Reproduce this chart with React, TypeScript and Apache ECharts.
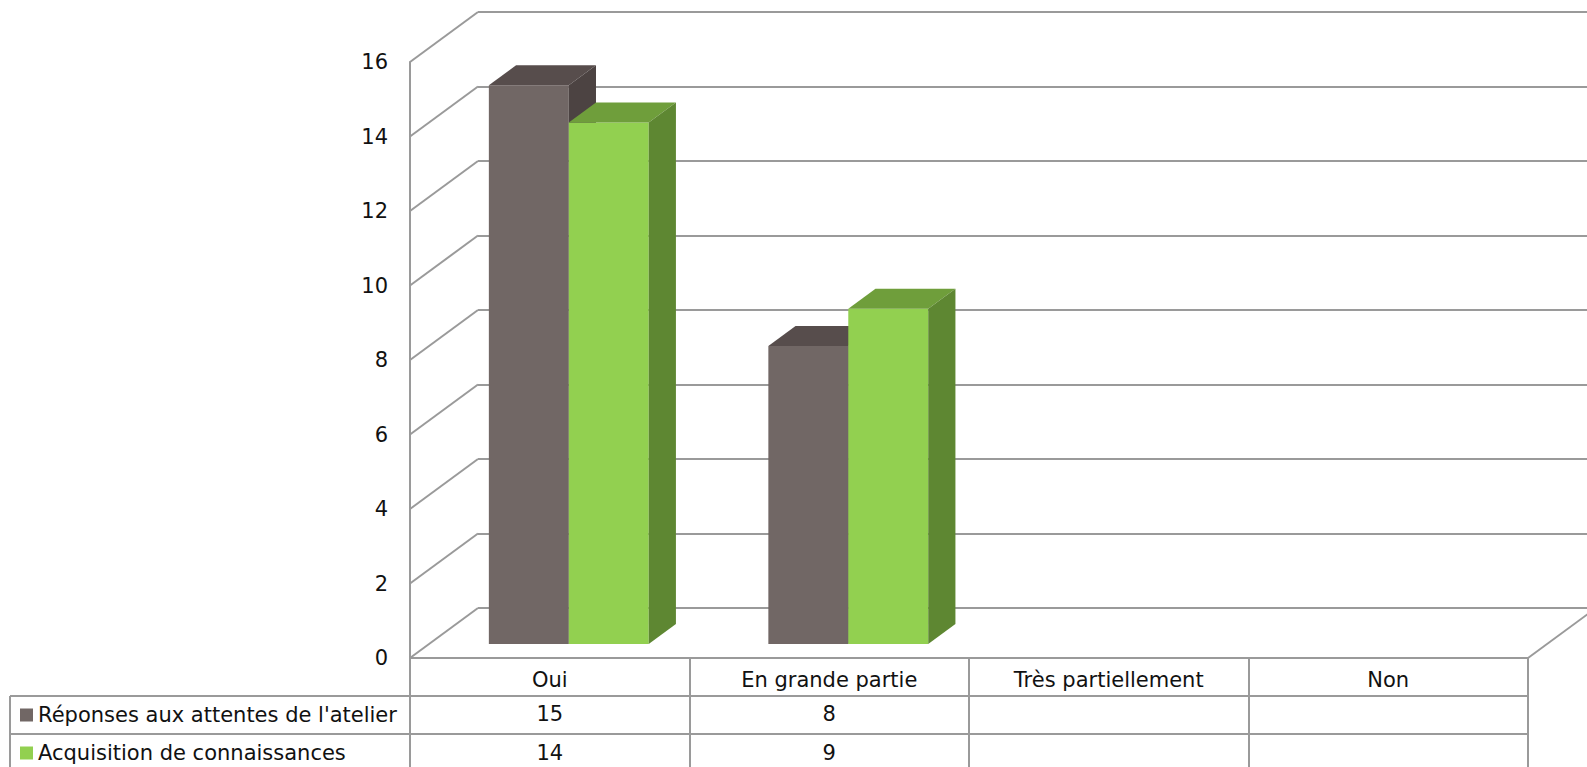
import React, { useEffect, useRef } from "react";
import * as echarts from "echarts";

const categories = ["Oui", "En grande partie", "Très partiellement", "Non"];
const seriesNames = ["Réponses aux attentes de l'atelier", "Acquisition de connaissances"];
const reponsesValues: (number | null)[] = [15, 8, null, null];
const acquisitionValues: (number | null)[] = [14, 9, null, null];
const yTicks = [0, 2, 4, 6, 8, 10, 12, 14, 16];

const W = 1587;
const H = 767;
const FRONT_LEFT = 410;
const FRONT_TOP = 62;
const FRONT_W = 1118;
const FRONT_H = 596;
const DEPTH_DX = 68;
const DEPTH_DY = -50;
const BAR_FRONT_F = 0.28;
const BAR_DEPTH_F = 0.4;
const BAR_W_FRAC = 0.286;
const ROW_H = 38;
const TABLE_LEFT = 10;
const LINE = "#9a9a9a";
const FONT = "DejaVu Sans";
const FS = 21;

const faceColors = [
  { front: "#716765", top: "#574d4c", side: "#4c4342" },
  { front: "#92d050", top: "#6f9e3b", side: "#5e8732" },
];

function barRender(sIdx: number) {
  return (params: any, api: any) => {
    const v = api.value(1);
    if (v == null || isNaN(v)) return null;
    const idx = api.value(0);
    const top = api.coord([idx, v]);
    const base = api.coord([idx, 0]);
    const catW = api.size([1, 0])[0];
    const w = catW * BAR_W_FRAC;
    const fdx = DEPTH_DX * BAR_FRONT_F;
    const fdy = DEPTH_DY * BAR_FRONT_F;
    const bdx = DEPTH_DX * BAR_DEPTH_F;
    const bdy = DEPTH_DY * BAR_DEPTH_F;
    const x0 = sIdx === 0 ? top[0] + fdx - w : top[0] + fdx;
    const yT = top[1] + fdy;
    const yB = base[1] + fdy;
    const c = faceColors[sIdx];
    return {
      type: "group",
      children: [
        {
          type: "rect",
          shape: { x: x0, y: yT, width: w, height: yB - yT },
          style: { fill: c.front },
        },
        {
          type: "polygon",
          shape: {
            points: [
              [x0, yT],
              [x0 + w, yT],
              [x0 + w + bdx, yT + bdy],
              [x0 + bdx, yT + bdy],
            ],
          },
          style: { fill: c.top },
        },
        {
          type: "polygon",
          shape: {
            points: [
              [x0 + w, yT],
              [x0 + w + bdx, yT + bdy],
              [x0 + w + bdx, yB + bdy],
              [x0 + w, yB],
            ],
          },
          style: { fill: c.side },
        },
      ],
    };
  };
}

function frameRender(params: any, api: any) {
  const v = api.value(0);
  const cs = params.coordSys;
  const y = api.coord([0, v])[1];
  const children: any[] = [
    {
      type: "line",
      shape: { x1: cs.x, y1: y, x2: cs.x + DEPTH_DX, y2: y + DEPTH_DY },
      style: { stroke: LINE, lineWidth: 2 },
    },
  ];
  if (v === 0) {
    children.push({
      type: "line",
      shape: {
        x1: cs.x + cs.width,
        y1: y,
        x2: cs.x + cs.width + DEPTH_DX,
        y2: y + DEPTH_DY,
      },
      style: { stroke: LINE, lineWidth: 2 },
    });
  }
  return { type: "group", children };
}

export default function App() {
  const ref = useRef<HTMLDivElement>(null);
  useEffect(() => {
    if (!ref.current) return;
    const chart = echarts.init(ref.current, undefined, { renderer: "svg" });
    const tableBottom = FRONT_TOP + FRONT_H;
    const rowText = (vals: (number | null)[]) => (_: any, i: number) =>
      vals[i] == null ? "" : String(vals[i]);
    const legendBase = {
      orient: "vertical",
      left: 20,
      padding: 0,
      itemWidth: 13,
      itemHeight: 13,
      icon: "rect",
      textStyle: { fontSize: FS, lineHeight: 22, color: "#111", fontFamily: FONT },
    };
    chart.setOption({
      animation: false,
      textStyle: { fontFamily: FONT },
      grid: [
        { left: FRONT_LEFT, top: FRONT_TOP, width: FRONT_W, height: FRONT_H },
        {
          left: FRONT_LEFT + DEPTH_DX,
          top: FRONT_TOP + DEPTH_DY,
          width: FRONT_W,
          height: FRONT_H,
        },
      ],
      legend: [
        { ...legendBase, top: tableBottom + ROW_H + 8, data: [seriesNames[0]] },
        { ...legendBase, top: tableBottom + ROW_H * 2 + 8, data: [seriesNames[1]] },
      ],
      xAxis: [
        {
          type: "category",
          gridIndex: 0,
          data: categories,
          axisLine: { show: true, lineStyle: { color: LINE, width: 2 } },
          axisTick: {
            show: true,
            interval: 0,
            length: H - tableBottom,
            lineStyle: { color: LINE, width: 2 },
          },
          axisLabel: {
            interval: 0,
            margin: 22,
            verticalAlign: "middle",
            fontSize: FS,
            color: "#111",
            fontFamily: FONT,
          },
        },
        {
          type: "category",
          gridIndex: 0,
          position: "bottom",
          data: categories,
          axisLine: { show: false },
          axisTick: { show: false },
          axisLabel: {
            interval: 0,
            margin: ROW_H + 18,
            verticalAlign: "middle",
            fontSize: FS,
            color: "#111",
            fontFamily: FONT,
            formatter: rowText(reponsesValues),
          },
        },
        {
          type: "category",
          gridIndex: 0,
          position: "bottom",
          data: categories,
          axisLine: { show: false },
          axisTick: { show: false },
          axisLabel: {
            interval: 0,
            margin: ROW_H * 2 + 19,
            verticalAlign: "middle",
            fontSize: FS,
            color: "#111",
            fontFamily: FONT,
            formatter: rowText(acquisitionValues),
          },
        },
        {
          type: "category",
          gridIndex: 1,
          data: categories,
          show: false,
        },
      ],
      yAxis: [
        {
          type: "value",
          gridIndex: 0,
          min: 0,
          max: 16,
          interval: 2,
          axisLine: { show: true, lineStyle: { color: LINE, width: 2 } },
          axisTick: { show: false },
          splitLine: { show: false },
          axisLabel: { margin: 22, fontSize: FS, color: "#111", fontFamily: FONT },
        },
        {
          type: "value",
          gridIndex: 1,
          min: 0,
          max: 16,
          interval: 2,
          axisLine: { show: false },
          axisTick: { show: false },
          axisLabel: { show: false },
          splitLine: { show: true, lineStyle: { color: LINE, width: 2 } },
        },
      ],
      graphic: [
        {
          type: "line",
          shape: { x1: TABLE_LEFT, y1: tableBottom + ROW_H, x2: FRONT_LEFT + FRONT_W, y2: tableBottom + ROW_H },
          style: { stroke: LINE, lineWidth: 2 },
        },
        {
          type: "line",
          shape: { x1: TABLE_LEFT, y1: tableBottom + ROW_H * 2, x2: FRONT_LEFT + FRONT_W, y2: tableBottom + ROW_H * 2 },
          style: { stroke: LINE, lineWidth: 2 },
        },
        {
          type: "line",
          shape: { x1: TABLE_LEFT, y1: tableBottom + ROW_H, x2: TABLE_LEFT, y2: H },
          style: { stroke: LINE, lineWidth: 2 },
        },
      ],
      series: [
        {
          type: "custom",
          xAxisIndex: 0,
          yAxisIndex: 0,
          silent: true,
          data: yTicks.map((t) => [t]),
          encode: { y: 0 },
          renderItem: frameRender,
          z: 1,
        },
        {
          type: "custom",
          name: seriesNames[0],
          xAxisIndex: 0,
          yAxisIndex: 0,
          itemStyle: { color: faceColors[0].front },
          data: categories.map((_, i) => [i, reponsesValues[i]]),
          encode: { x: 0, y: 1 },
          renderItem: barRender(0),
          z: 3,
        },
        {
          type: "custom",
          name: seriesNames[1],
          xAxisIndex: 0,
          yAxisIndex: 0,
          itemStyle: { color: faceColors[1].front },
          data: categories.map((_, i) => [i, acquisitionValues[i]]),
          encode: { x: 0, y: 1 },
          renderItem: barRender(1),
          z: 4,
        },
      ],
    });
    return () => chart.dispose();
  }, []);
  return (
    <div
      ref={ref}
      style={{ position: "fixed", left: 0, top: 0, width: W, height: H, background: "#fff" }}
    />
  );
}
